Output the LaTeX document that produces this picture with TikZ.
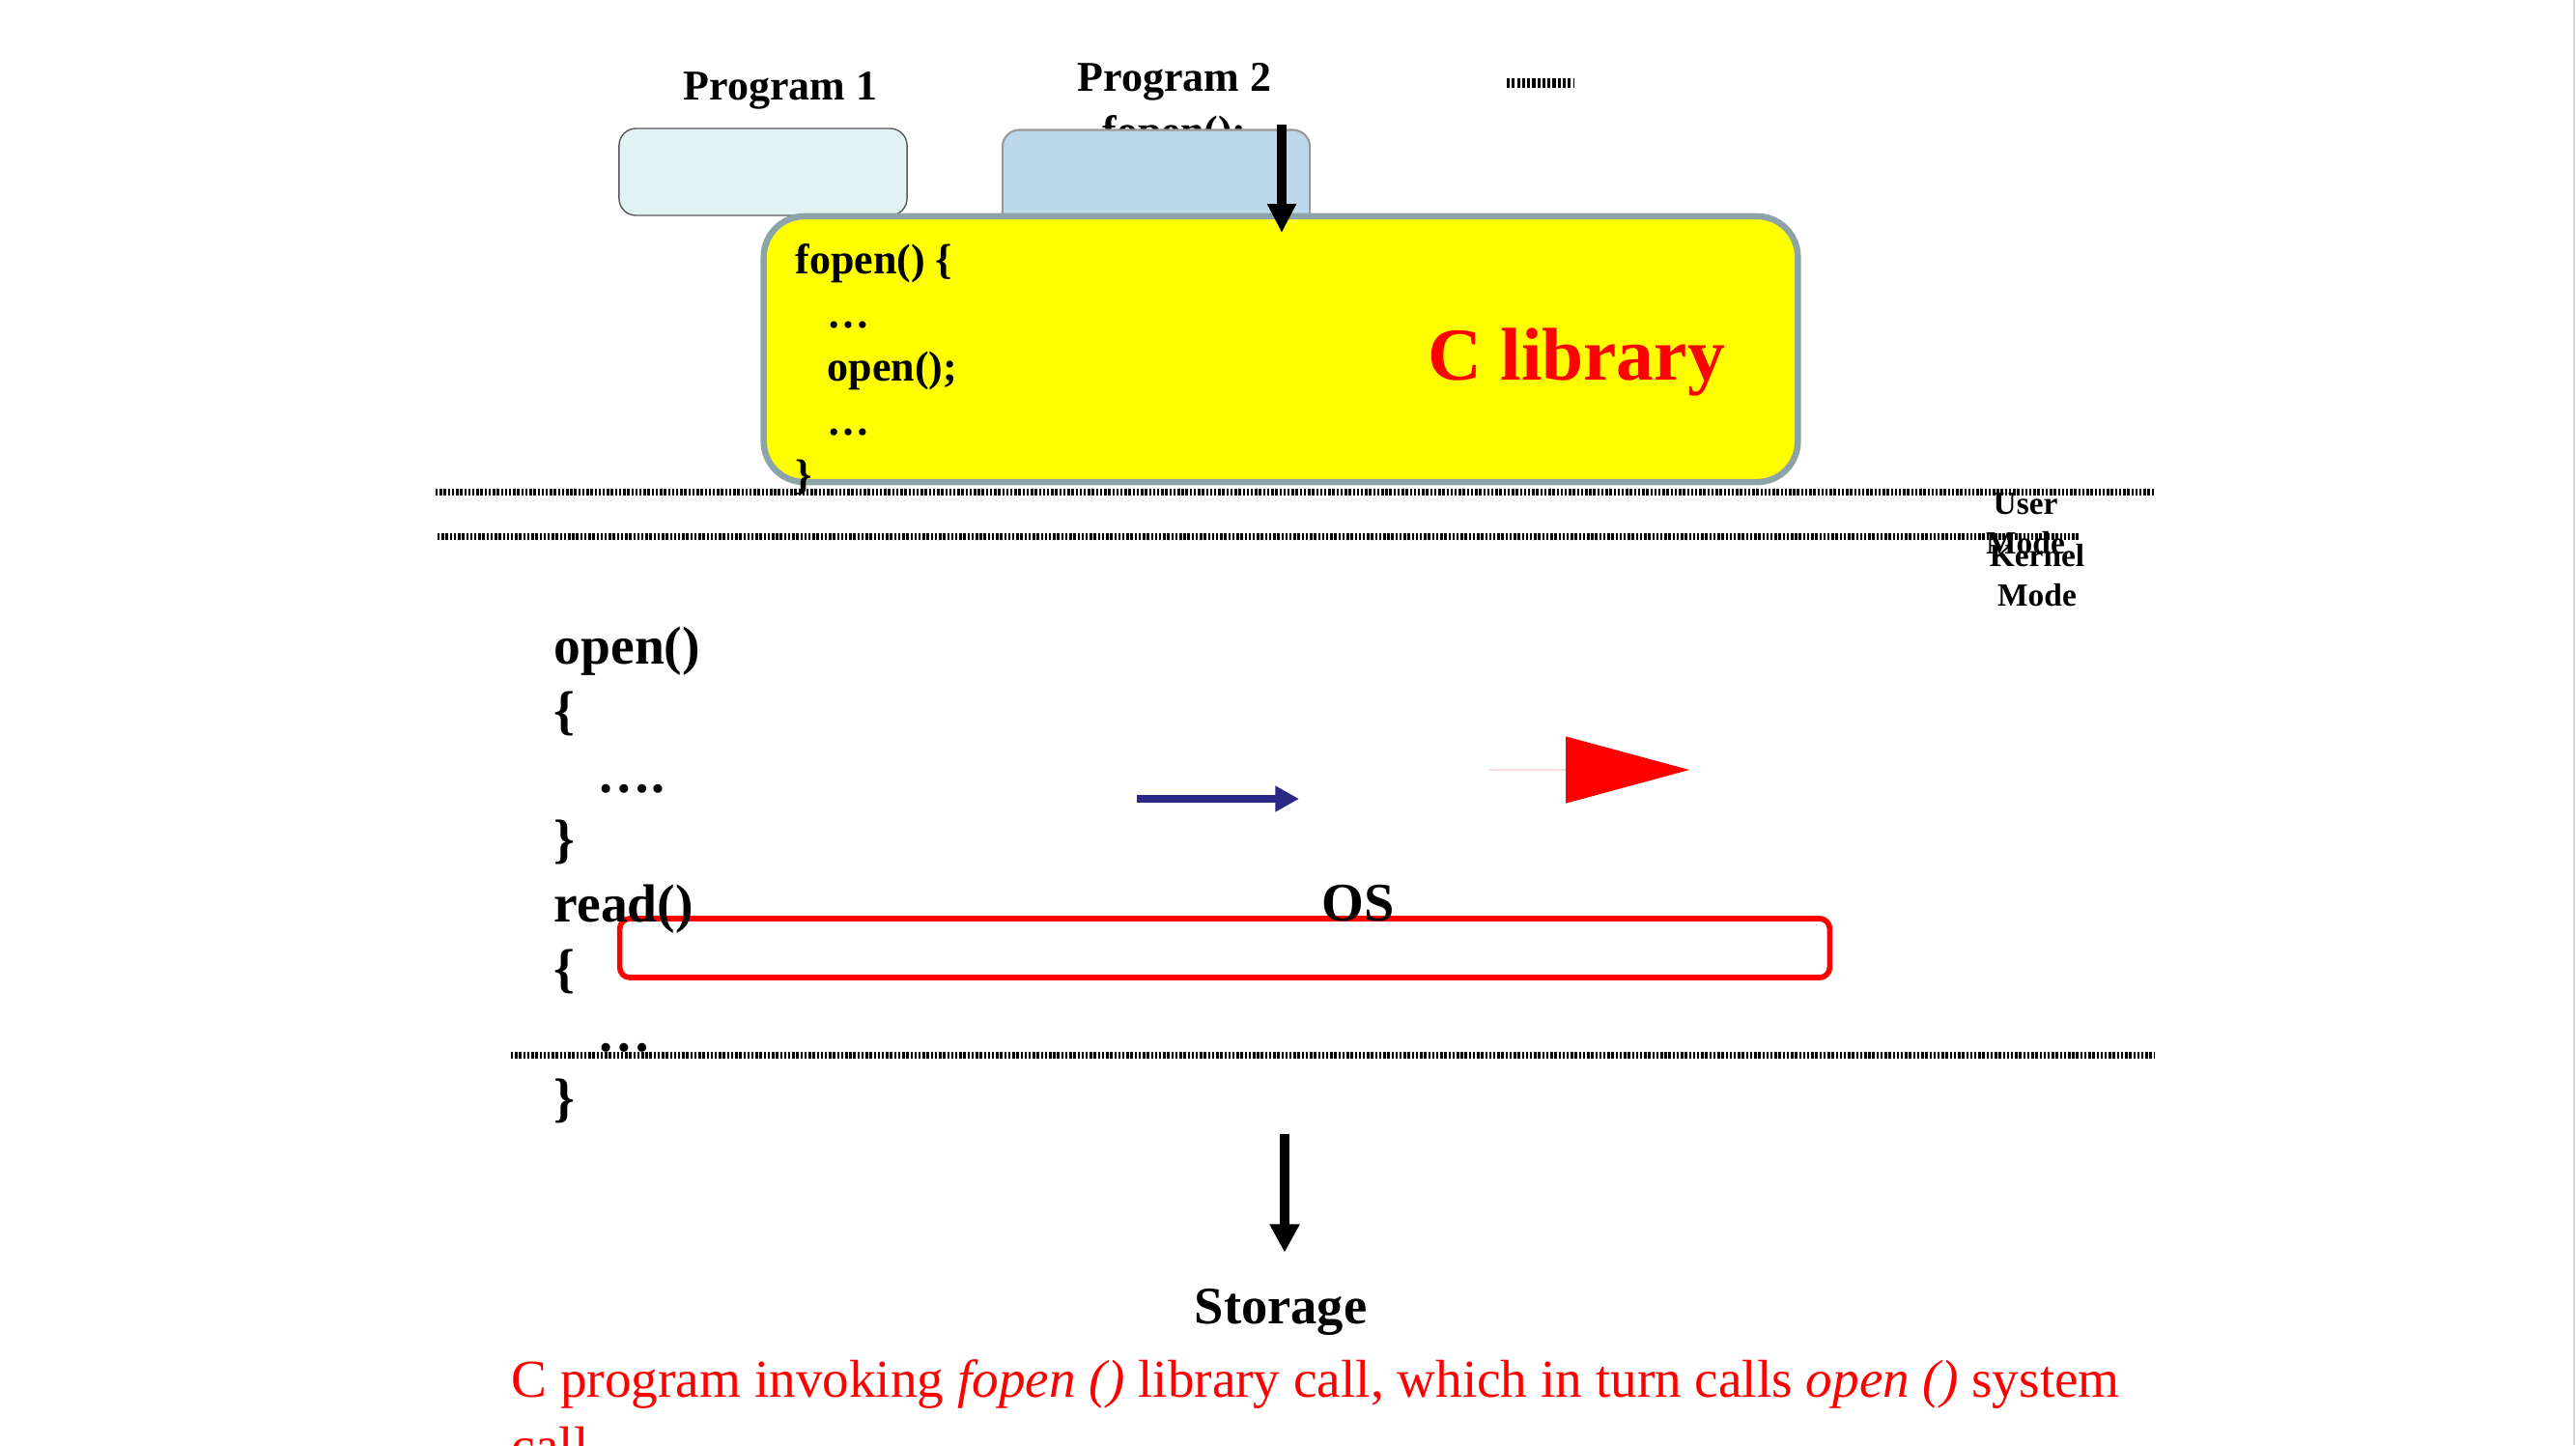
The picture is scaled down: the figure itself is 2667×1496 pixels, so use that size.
\documentclass[tikz,border=0pt]{standalone}
\usepackage{fontspec}
\setmainfont{Liberation Serif}
\usepackage{xcolor}
\usetikzlibrary{arrows.meta,positioning,calc}

\definecolor{progone}{RGB}{226,242,242}
\definecolor{progtwo}{RGB}{189,215,235}
\definecolor{libfill}{RGB}{255,255,0}
\definecolor{libedge}{RGB}{140,163,168}
\definecolor{callblue}{RGB}{42,42,134}
\definecolor{faintred}{RGB}{245,222,222}
\definecolor{pured}{RGB}{255,0,0}

\begin{document}
\begin{tikzpicture}[x=0.01cm, y=-0.01cm,
    prog/.style={rectangle, draw=gray!70!black, line width=0.4pt, rounded corners=5pt, inner sep=0pt},
    title/.style={font=\fontsize{12.5pt}{15.8pt}\selectfont\bfseries, anchor=base, inner sep=0pt},
    codetext/.style={font=\fontsize{12.5pt}{15.8pt}\selectfont\bfseries, align=left, anchor=base west, inner sep=0pt},
    oscode/.style={font=\fontsize{15.8pt}{19pt}\selectfont\bfseries, align=left, anchor=base west, inner sep=0pt},
    modetext/.style={font=\fontsize{9.5pt}{11.4pt}\selectfont\bfseries, align=center, anchor=base, inner sep=0pt},
    modeline/.style={line width=2pt, dash pattern=on 0.7pt off 0.5pt},
    downarrow/.style={line width=2.9pt, -{Triangle[length=8.5pt, width=8pt]}}]

    \path[fill=white, use as bounding box] (0,0) rectangle (2667,1496);
    \draw[gray!30, line width=0.8pt] (2665,0) -- (2665,1496);

    % Programs on top
    \node[title] (p1title) at (808,103) {Program 1};
    \node[title] (p2title) at (1216,94) {Program 2};
    \node[title] (p2call) at (1216,150) {fopen();};
    \node[prog, fill=progone, minimum width=2.98cm, minimum height=0.9cm] (prog1) at (790,178) {};
    \node[prog, fill=progtwo, draw=gray!80, line width=0.6pt, minimum width=3.18cm, minimum height=1.15cm] (prog2) at (1197,192) {};
    \draw[line width=2.6pt, dash pattern=on 0.9pt off 0.6pt] (1560,86) -- (1630,86);

    % C library
    \node[rectangle, draw=libedge, line width=1.85pt, fill=libfill, rounded corners=12pt, minimum width=10.7cm, minimum height=2.75cm] (clib) at (1326,361.5) {};
    \node[font=\fontsize{22pt}{26pt}\selectfont\bfseries, text=pured, anchor=base, inner sep=0pt] (libname) at (1632,393) {C library};

    % User / Kernel boundary
    \draw[modeline] (451,509) -- (2230,509);
    \draw[modeline] (453,555) -- (2153,555);
    \draw[modeline] (529,1092) -- (2230,1092);
    \node[modetext] (usermode) at (2097,573) {User\\Mode};
    \node[modetext] (kernelmode) at (2109,627) {Kernel\\Mode};

    \node[codetext] (libcode) at (823,506) {fopen() \{\\\hspace*{9.4pt}…\\\hspace*{9.4pt}open();\\\hspace*{9.4pt}…\\\}};

    % OS
    \node[rectangle, draw=pured, line width=1.6pt, rounded corners=3pt, minimum width=12.52cm, minimum height=0.61cm] (osbox) at (1268,981.5) {};
    \node[font=\fontsize{16pt}{19pt}\selectfont\bfseries, anchor=base, inner sep=0pt] (oslabel) at (1406,953) {OS};
    \node[oscode] (syscode) at (573,1155) {open()\\\{\\\hspace*{12.8pt}….\\\}\\read()\\\{\\\hspace*{12.8pt}…\\\}};

    % Arrows
    \coordinate (callstart) at (1327,129);
    \coordinate (callend) at (1327,241);
    \draw[downarrow] (callstart) -- (callend);
    \coordinate (bluestart) at (1177,827);
    \coordinate (blueend) at (1345,827);
    \draw[callblue, line width=2.3pt, -{Triangle[length=7pt, width=7.2pt]}] (bluestart) -- (blueend);
    \coordinate (redstart) at (1541,797);
    \coordinate (redend) at (1749,797);
    \draw[faintred, line width=0.4pt, -{Triangle[length=36.4pt, width=19.6pt, color=pured]}] (redstart) -- (redend);

    % Storage
    \node[font=\fontsize{15.5pt}{18pt}\selectfont\bfseries, anchor=base, inner sep=0pt] (storage) at (1326,1370) {Storage};
    \coordinate (oscall) at (1330,1174);
    \draw[downarrow, line width=3.1pt, shorten >=10.4pt, -{Triangle[length=8.3pt, width=8.3pt]}] (oscall) -- (oscall |- storage.north);

    \node[font=\fontsize{15.7pt}{19.5pt}\selectfont, text=pured, align=left, anchor=base west, inner sep=0pt] (caption) at (529,1515) {C program invoking \textit{fopen ()} library call, which in turn calls \textit{open ()} system\\call};

\end{tikzpicture}
\end{document}
